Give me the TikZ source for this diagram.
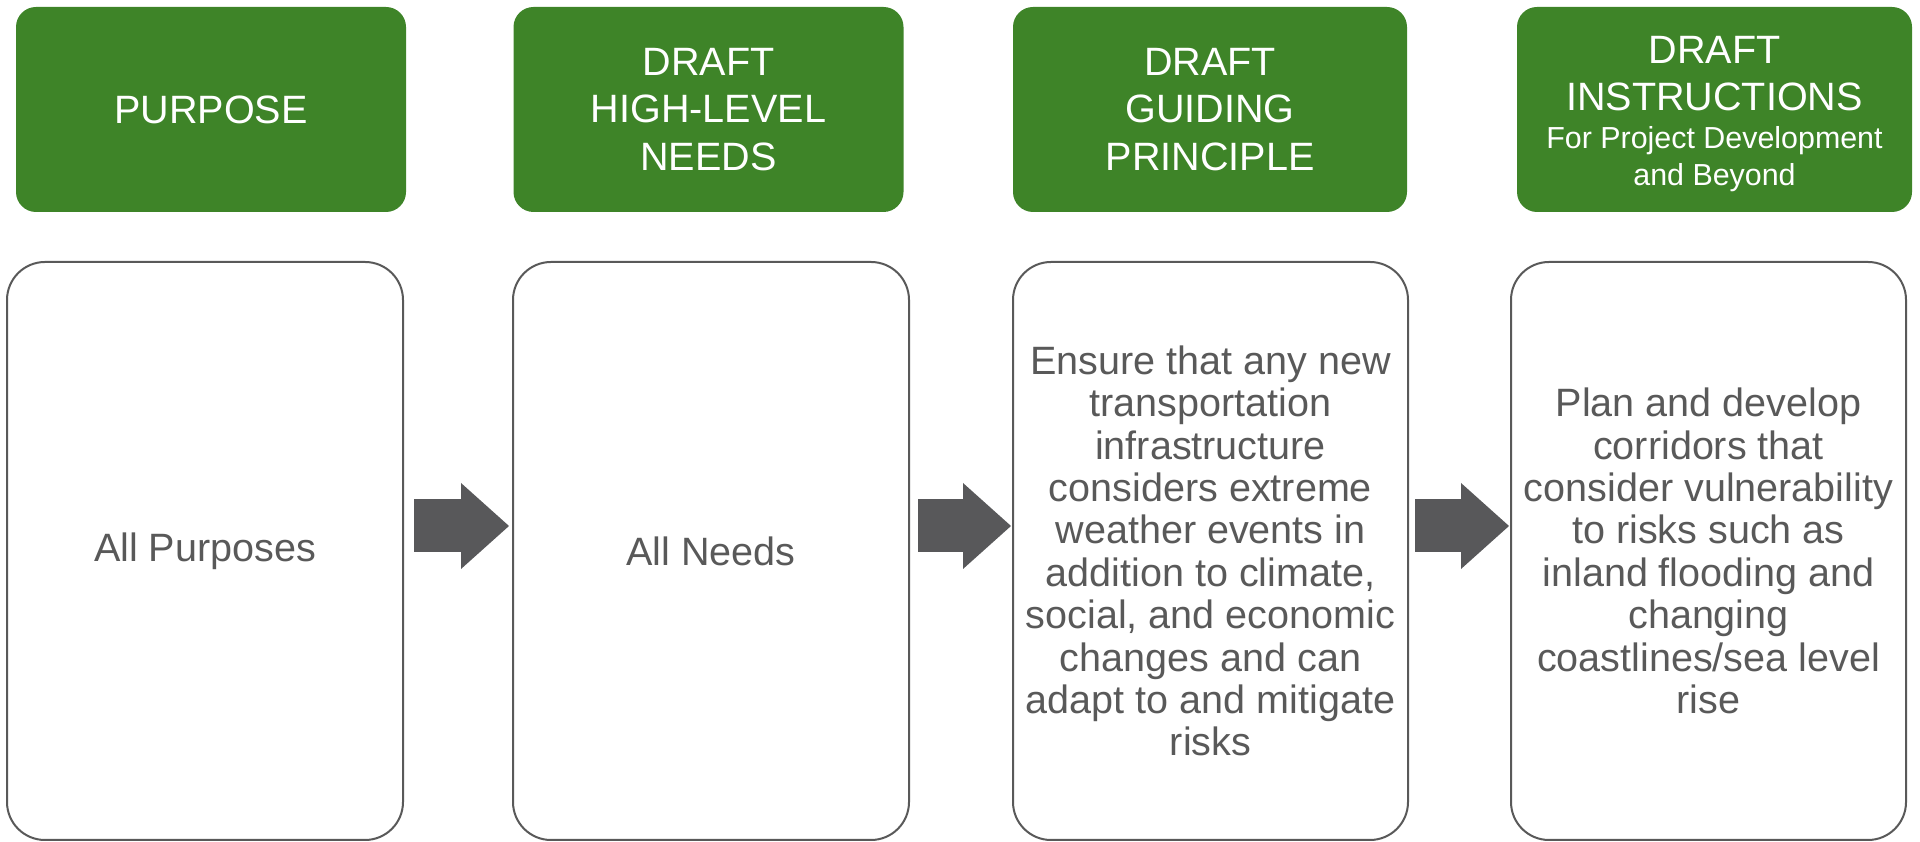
\documentclass[tikz,border=0pt]{standalone}
\usepackage{fontspec}
\setmainfont{Liberation Sans}
\usetikzlibrary{arrows.meta}

\definecolor{hdrgreen}{RGB}{62,132,40}
\definecolor{txtgray}{RGB}{89,89,89}
\definecolor{arrgray}{RGB}{88,88,90}

\begin{document}
\begin{tikzpicture}[
  greenbox/.style={rectangle, rounded corners=0.4cm, fill=hdrgreen, text=white, minimum height=4.1cm, inner sep=0pt, align=center, font=\fontsize{22.5}{27}\selectfont},
  whitebox/.style={rectangle, rounded corners=0.76cm, draw=txtgray, line width=0.04cm, text=txtgray, minimum height=11.56cm, inner sep=0pt, align=center, font=\fontsize{22.5}{24.1}\selectfont},
  bigarrow/.style={arrgray, line width=1.06cm, -{Triangle[length=0.96cm 0, width=1.72cm 0, line width=0pt 0]}}
]
\useasboundingbox (0,0) rectangle (38.4,16.84);

% headers
\draw (4.22,14.65) node (purp) [greenbox, minimum width=7.8cm] {PURPOSE};
\draw (14.17,14.65) node (needs) [greenbox, minimum width=7.8cm] {DRAFT\\HIGH-LEVEL\\NEEDS};
\draw (24.2,14.65) node (guide) [greenbox, minimum width=7.88cm] {DRAFT\\GUIDING\\PRINCIPLE};
\draw (34.29,14.65) node (instr) [greenbox, minimum width=7.9cm] {\rule{0pt}{0.72cm}DRAFT\\INSTRUCTIONS\\[-5.4pt]{\fontsize{17.3}{16}\selectfont For Project Development}\\[-6.1pt]{\fontsize{17.3}{16}\selectfont and Beyond}};

% contents
\draw (4.1,5.82) node (allpurp) [whitebox, minimum width=7.92cm] {All Purposes};
\draw (14.22,5.82) node (allneeds) [whitebox, minimum width=7.92cm] {All Needs};
\draw (24.21,5.82) node (ensure) [whitebox, minimum width=7.9cm] {Ensure that any new\\transportation\\infrastructure\\considers extreme\\weather events in\\addition to climate,\\social, and economic\\changes and can\\adapt to and mitigate\\risks};
\draw (34.17,5.82) node (plan) [whitebox, minimum width=7.9cm] {Plan and develop\\corridors that\\consider vulnerability\\to risks such as\\inland flooding and\\changing\\coastlines/sea level\\rise};

% arrows
\draw [bigarrow] ([shift={(0.2,0.5)}]allpurp.east) -- ([shift={(-0.06,0.5)}]allneeds.west);
\draw [bigarrow] ([shift={(0.16,0.5)}]allneeds.east) -- ([shift={(-0.02,0.5)}]ensure.west);
\draw [bigarrow] ([shift={(0.12,0.5)}]ensure.east) -- ([shift={(-0.02,0.5)}]plan.west);

\end{tikzpicture}
\end{document}
